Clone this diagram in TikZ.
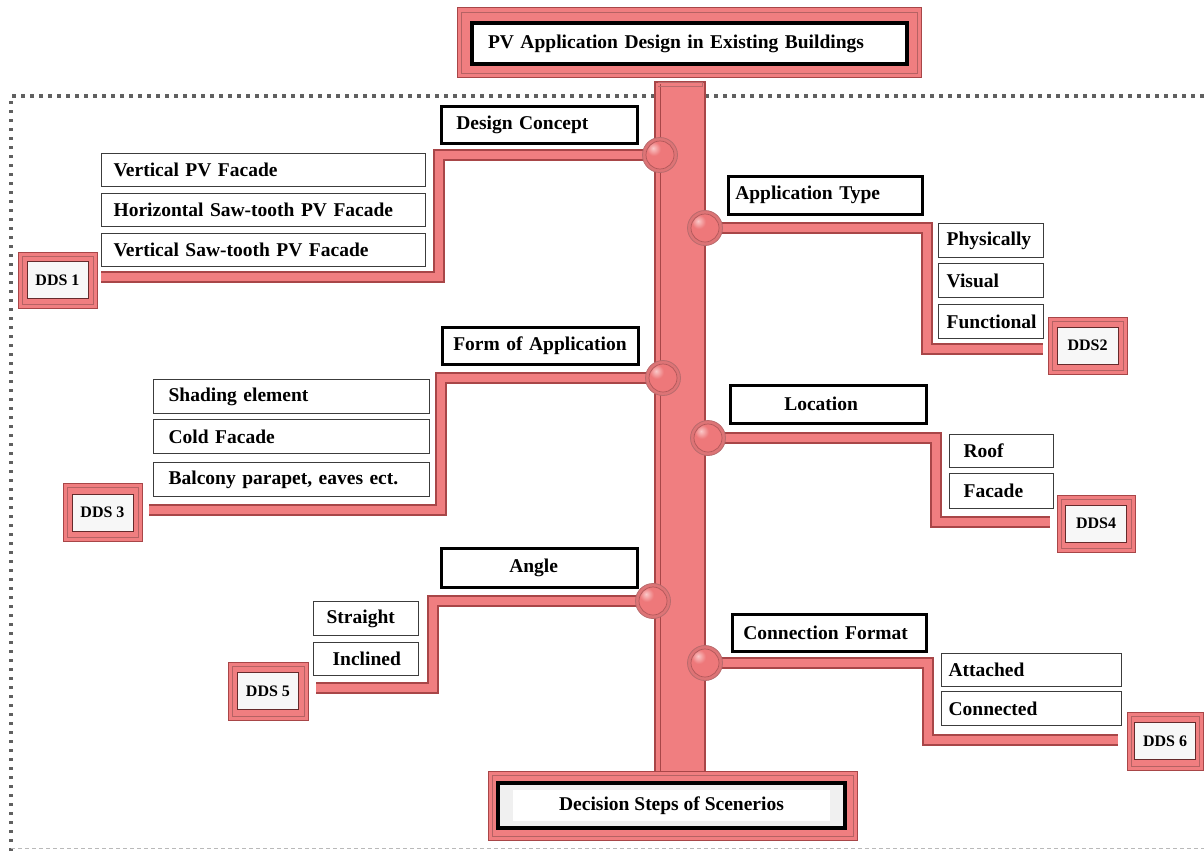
\documentclass[tikz,border=0pt]{standalone}
\usepackage{fontspec}
\setmainfont{Liberation Serif}
\usetikzlibrary{calc}
\definecolor{pinkcol}{RGB}{240,126,128}
\definecolor{pinkdark}{RGB}{168,70,72}
\definecolor{optline}{RGB}{60,60,60}
\definecolor{ballhi}{RGB}{250,200,200}
\definecolor{ballmid}{RGB}{238,120,122}
\definecolor{balledge}{RGB}{200,88,90}
\definecolor{ballrim}{RGB}{170,70,72}
\pgfdeclareradialshading{pinkball}{\pgfpoint{-10bp}{10bp}}{%
  color(0bp)=(ballhi); color(10bp)=(ballmid); color(32bp)=(ballmid);
  color(48bp)=(balledge); color(62bp)=(ballrim); color(100bp)=(ballrim)}
\pgfdeclarelayer{bg}
\pgfsetlayers{bg,main}
% #1 style, #2 name, #3 x1, #4 y1, #5 x2, #6 y2, #7 left padding, #8 text
\newcommand\obox[8]{%
  \pgfmathsetmacro\oboxw{#5-#3-2*#7}%
  \pgfmathsetmacro\oboxh{#6-#4}%
  \node[#1, anchor=north west, inner xsep=#7pt, text width=\oboxw pt,
        minimum height=\oboxh pt, align=left] (#2) at (#3,#4) {#8};}
\begin{document}
\begin{tikzpicture}[x=1pt,y=-1pt,
  txt/.style={font=\fontsize{19.5}{22}\selectfont\bfseries},
  frame/.style={rectangle, fill=pinkcol, draw=pinkdark, line width=1pt, inner sep=0pt,
    path picture={\draw[pinkdark!85, line width=0.9pt]
      ([shift={(4pt,-4pt)}]path picture bounding box.north west) rectangle
      ([shift={(-4pt,4pt)}]path picture bounding box.south east);}},
  blackbox/.style={txt, rectangle, draw=black, line width=4pt, fill=white, inner ysep=0pt},
  ddsin/.style={rectangle, draw=pinkdark!60!black, line width=0.8pt, fill=white!94!gray,
    inner sep=0pt, minimum width=61pt, minimum height=37pt,
    font=\fontsize{16}{18}\selectfont\bfseries},
  head/.style={txt, draw=black, line width=2.6pt, fill=white, inner ysep=0pt},
  opt/.style={txt, draw=optline, line width=1.3pt, fill=white, inner ysep=0pt},
  ball/.style={circle, inner sep=0pt, minimum size=35pt, draw=pinkdark!80, line width=0.8pt,
    fill=pinkcol!92!black,
    path picture={\shade[shading=pinkball] (path picture bounding box.center) circle (14pt);
      \draw[pinkdark!90, line width=0.7pt] (path picture bounding box.center) circle (14pt);}},
  pipe/.style={draw=pinkdark, line width=1.6pt, double=pinkcol, double distance=8.5pt, line join=miter},
]
\useasboundingbox (0,0) rectangle (1204,851);

% title and bottom
\node[frame, minimum width=464pt, minimum height=69pt] (titlef) at (689,42.5) {};
\node[blackbox, text width=403pt, align=left, inner xsep=16pt, minimum height=41pt] (title) at (689.5,43.5)
  {PV Application Design in Existing Buildings};
\node[frame, minimum width=369pt, minimum height=69pt] (botf) at (672.5,805.5) {};
\node[blackbox, fill=gray!12, minimum width=347pt, minimum height=45pt,
  path picture={\fill[white] ([shift={(15pt,-7pt)}]path picture bounding box.north west) rectangle
      ([shift={(-15pt,7pt)}]path picture bounding box.south east);}] (bottom) at (671.5,805.5)
  {Decision Steps of Scenerios};

% headings
\obox{head}{h1}{440}{105}{636}{142}{15}{Design Concept}
\obox{head}{h2}{727}{175}{921}{213}{7}{Application Type}
\obox{head}{h3}{441}{326}{637}{363}{11}{Form of Application}
\obox{head}{h4}{729}{384}{925}{422}{54}{Location}
\obox{head}{h5}{440}{547}{636}{586}{68}{Angle}
\obox{head}{h6}{731}{613}{925}{650}{11}{Connection Format}

% options
\obox{opt}{o11}{101}{153}{425}{186}{12}{Vertical PV Facade}
\obox{opt}{o12}{101}{193}{425}{226}{12}{Horizontal Saw-tooth PV Facade}
\obox{opt}{o13}{101}{233}{425}{266}{12}{Vertical Saw-tooth PV Facade}
\obox{opt}{o31}{153}{379}{429}{413}{15}{Shading element}
\obox{opt}{o32}{153}{419}{429}{453}{15}{Cold Facade}
\obox{opt}{o33}{153}{462}{429}{496}{15}{Balcony parapet, eaves ect.}
\obox{opt}{o51}{313}{601}{418}{635}{13}{Straight}
\obox{opt}{o52}{313}{642}{418}{675}{19}{Inclined}
\obox{opt}{o21}{938}{223}{1043}{257}{8}{Physically}
\obox{opt}{o22}{938}{263}{1043}{297}{8}{Visual}
\obox{opt}{o23}{938}{304}{1043}{338}{8}{Functional}
\obox{opt}{o41}{949}{434}{1053}{467}{14}{Roof}
\obox{opt}{o42}{949}{473}{1053}{508}{14}{Facade}
\obox{opt}{o61}{941}{653}{1121}{686}{7}{Attached}
\obox{opt}{o62}{941}{691}{1121}{725}{7}{Connected}

% DDS boxes
\node[frame, minimum width=79pt, minimum height=56pt] (dds1) at (57.5,280) {};
\node[ddsin] (dds1t) at (dds1) {DDS 1};
\node[frame, minimum width=79pt, minimum height=57pt] (dds2) at (1087.5,345.5) {};
\node[ddsin] (dds2t) at (dds2) {DDS2};
\node[frame, minimum width=79pt, minimum height=58pt] (dds3) at (102.5,512.5) {};
\node[ddsin] (dds3t) at (dds3) {DDS 3};
\node[frame, minimum width=78pt, minimum height=57pt] (dds4) at (1096,523.5) {};
\node[ddsin] (dds4t) at (dds4) {DDS4};
\node[frame, minimum width=80pt, minimum height=58pt] (dds5) at (268,691) {};
\node[ddsin] (dds5t) at (dds5) {DDS 5};
\node[frame, minimum width=76pt, minimum height=58pt] (dds6) at (1165,741) {};
\node[ddsin] (dds6t) at (dds6) {DDS 6};

% balls
\node[ball] (b1) at (660,155) {};
\node[ball] (b2) at (705,228) {};
\node[ball] (b3) at (663,378) {};
\node[ball] (b4) at (708,438) {};
\node[ball] (b5) at (653,601) {};
\node[ball] (b6) at (705,663) {};

% pipe corners
\coordinate (c1) at (439,277);
\coordinate (c2) at (927,349);
\coordinate (c3) at (441,510);
\coordinate (c4) at (936,522);
\coordinate (c5) at (433,688);
\coordinate (c6) at (928,740);

\begin{pgfonlayer}{bg}
  % dotted frame
  \draw[gray!75!black, line width=3.5pt, dash pattern=on 3.5pt off 5.5pt] (11,851) -- (11,96) -- (1204,96);
  \draw[gray!55, line width=1pt, dash pattern=on 4pt off 3pt] (11,848) -- (1204,848);
  % pipes
  \draw[pipe, shorten >=3pt] (b1.center) -| (c1) -- (dds1.east |- c1);
  \draw[pipe, shorten >=5pt] (b2.center) -| (c2) -- (dds2.west |- c2);
  \draw[pipe, shorten >=6pt] (b3.center) -| (c3) -- (dds3.east |- c3);
  \draw[pipe, shorten >=7pt] (b4.center) -| (c4) -- (dds4.west |- c4);
  \draw[pipe, shorten >=7pt] (b5.center) -| (c5) -- (dds5.east |- c5);
  \draw[pipe, shorten >=9pt] (b6.center) -| (c6) -- (dds6.west |- c6);
  % trunk
  \coordinate (ttop) at (655,82);
  \coordinate (tbot) at (705,772);
  \draw[fill=pinkcol, draw=pinkdark, line width=1.2pt] (ttop) rectangle (tbot);
  \draw[pinkdark, line width=0.9pt] (660.5,84) -- (660.5,772);
  \draw[pinkdark!80, line width=0.9pt] (658,82) -- (702,82) -- (702,86) -- (658,86);
\end{pgfonlayer}
\end{tikzpicture}
\end{document}
